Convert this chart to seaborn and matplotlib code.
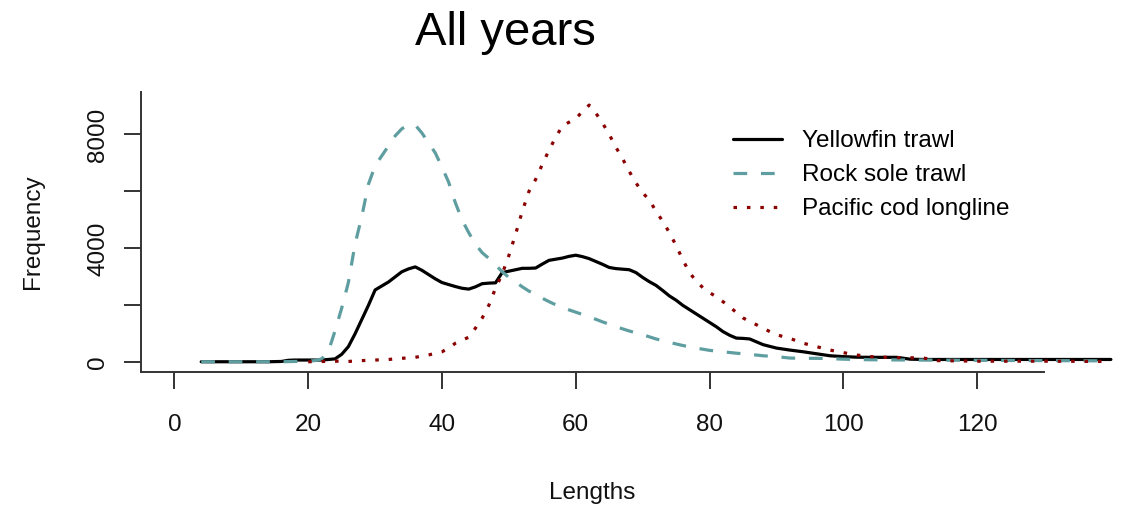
import matplotlib
matplotlib.use("Agg")
from matplotlib import pyplot as plt
from matplotlib.lines import Line2D
import pandas as pd
import seaborn as sns

# --- data ---
yf_len = [4, 6, 8, 10, 12, 14, 16, 17, 18, 20, 22, 24, 25, 26, 27, 28, 29, 30,
          31, 32, 33, 34, 35, 36, 37, 38, 39, 40, 41, 42, 43, 44, 45, 46, 47, 48,
          49, 50, 51, 52, 53, 54, 55, 56, 57, 58, 59, 60, 61, 62, 63, 64, 65, 66,
          67, 68, 69, 70, 71, 72, 73, 74, 75, 76, 77, 78, 79, 80, 81, 82, 83, 84,
          85, 86, 87, 88, 89, 90, 92, 94, 96, 98, 100, 102, 104, 106, 108, 110,
          112, 116, 120, 125, 130, 135, 140]
yf_freq = [20, 20, 20, 20, 20, 20, 30, 70, 80, 80, 80, 120, 280, 550, 1000, 1500,
           2000, 2540, 2680, 2820, 3000, 3180, 3280, 3350, 3230, 3080, 2930, 2800,
           2730, 2660, 2600, 2570, 2650, 2760, 2780, 2790, 3150, 3200, 3250, 3300,
           3300, 3310, 3450, 3580, 3620, 3660, 3720, 3760, 3710, 3640, 3540, 3440,
           3330, 3290, 3270, 3250, 3150, 2980, 2830, 2700, 2520, 2330, 2180, 2000,
           1850, 1700, 1550, 1400, 1250, 1080, 950, 850, 840, 820, 720, 620, 560,
           500, 430, 370, 300, 230, 200, 180, 175, 175, 175, 110, 100, 100, 100,
           100, 100, 100, 100]

rs_len = [4, 6, 8, 10, 12, 14, 16, 18, 20, 21, 22, 23, 24, 25, 26, 27, 28, 29,
          30, 31, 32, 33, 34, 35, 36, 37, 38, 39, 40, 41, 42, 43, 44, 45, 46, 47,
          48, 49, 50, 51, 52, 53, 54, 55, 56, 57, 58, 59, 60, 62, 64, 66, 68, 70,
          72, 74, 76, 78, 80, 82, 84, 86, 88, 90, 92, 94, 96, 98, 100, 102, 104,
          110, 120, 130, 140]
rs_freq = [20, 20, 20, 20, 20, 20, 20, 30, 40, 60, 120, 370, 1100, 1900, 2800,
           4150, 5110, 6250, 6900, 7250, 7600, 7950, 8200, 8330, 8330, 8050, 7700,
           7350, 6850, 6320, 5600, 5000, 4550, 4150, 3850, 3650, 3420, 3180, 2980,
           2820, 2650, 2500, 2380, 2250, 2130, 2020, 1920, 1840, 1760, 1600, 1420,
           1250, 1100, 970, 820, 700, 590, 500, 420, 370, 320, 280, 230, 200, 150,
           140, 140, 130, 110, 100, 90, 80, 70, 60, 50]

pc_len = [20, 22, 24, 26, 28, 30, 32, 34, 36, 38, 40, 41, 42, 43, 44, 45, 46,
          47, 48, 49, 50, 51, 52, 53, 54, 55, 56, 57, 58, 59, 60, 61, 62, 63, 64,
          65, 66, 67, 68, 69, 70, 71, 72, 73, 74, 75, 76, 77, 78, 79, 80, 81, 82,
          83, 84, 85, 86, 87, 88, 89, 90, 92, 94, 96, 98, 100, 102, 104, 106, 108,
          110, 112, 114, 120, 130, 140]
pc_freq = [20, 30, 40, 30, 60, 80, 100, 140, 175, 260, 370, 500, 670, 780, 880,
           1200, 1550, 2000, 2600, 3100, 3750, 4500, 5300, 6000, 6420, 6950, 7450,
           7900, 8300, 8430, 8560, 8800, 9030, 8750, 8400, 8000, 7550, 7150, 6700,
           6300, 5950, 5700, 5300, 4950, 4550, 4100, 3600, 3150, 2850, 2620, 2450,
           2300, 2130, 1950, 1750, 1560, 1430, 1320, 1200, 1080, 970, 840, 670, 550,
           430, 340, 255, 200, 180, 165, 160, 150, 60, 40, 40, 30]

gears = ["Yellowfin trawl", "Rock sole trawl", "Pacific cod longline"]
colors = {"Yellowfin trawl": "black",
          "Rock sole trawl": "#5F9EA0",
          "Pacific cod longline": "#8B0000"}
dashes = {"Yellowfin trawl": "",
          "Rock sole trawl": (4.3, 4.3),
          "Pacific cod longline": (1.1, 3.1)}

frame = pd.concat([
    pd.DataFrame({"Lengths": yf_len, "Frequency": yf_freq, "Gear": gears[0]}),
    pd.DataFrame({"Lengths": rs_len, "Frequency": rs_freq, "Gear": gears[1]}),
    pd.DataFrame({"Lengths": pc_len, "Frequency": pc_freq, "Gear": gears[2]}),
], ignore_index=True)

sns.set_style("ticks")
plt.rcParams["font.family"] = ["Liberation Sans", "DejaVu Sans"]
plt.rcParams["text.color"] = "black"

fig = plt.figure(figsize=(11.22, 5.07), dpi=100)
ax = fig.add_axes([141 / 1122, 1 - 372 / 507, 903 / 1122, 280 / 507])

sns.lineplot(data=frame, x="Lengths", y="Frequency", hue="Gear", style="Gear",
             hue_order=gears, style_order=gears, palette=colors, dashes=dashes,
             linewidth=2.3, legend=False, ax=ax, sort=False)
for line in ax.lines:
    line.set_clip_on(False)

ax.set_xlim(-5, 130)
ax.set_ylim(-340, 9490)

ax.set_xticks(range(0, 121, 20))
ax.set_yticks(range(0, 8001, 2000))
ax.set_yticklabels(["0", "", "4000", "", "8000"], rotation=90, va="center")
ax.tick_params(axis="both", bottom=True, left=True, direction="out",
               length=12, width=1.4, color="#333333",
               labelsize=17.5, labelcolor="#111111")
ax.tick_params(axis="x", pad=18.5)
ax.tick_params(axis="y", pad=11)

for side in ["top", "right"]:
    ax.spines[side].set_visible(False)
for side in ["left", "bottom"]:
    ax.spines[side].set_color("#333333")
    ax.spines[side].set_linewidth(1.4)

ax.set_xlabel("Lengths", fontsize=17.5, color="#111111", va="center")
ax.xaxis.set_label_coords(0.5, (372 - 493) / 280)
ax.set_ylabel("Frequency", fontsize=17.5, color="#111111", va="center")
ax.yaxis.set_label_coords((33 - 141) / 903, 0.5)

fig.text(505 / 1122, 1 - 45 / 507, "All years", fontsize=34, color="black",
         ha="center", va="baseline")

handles = [Line2D([], [], color=colors[g], linewidth=2.3,
                  dashes=dashes[g] if dashes[g] else (None, None)) for g in gears]
handles[0].set_linestyle("-")
ax.legend(handles, gears, loc="upper left", bbox_to_anchor=(733 / 1122, 1 - 130 / 507),
          bbox_transform=fig.transFigure, frameon=False, fontsize=17.5,
          handlelength=2.0, handletextpad=0.85, labelspacing=0.5,
          borderaxespad=0, borderpad=0)

plt.savefig("out.png", dpi=100)
